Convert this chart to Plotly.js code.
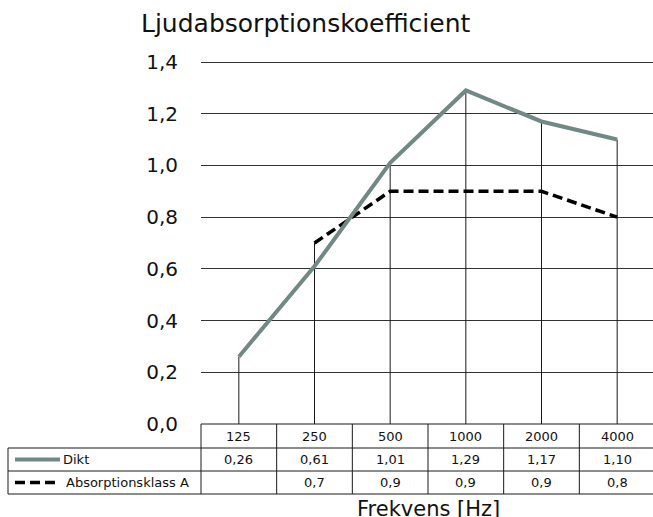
<!DOCTYPE html>
<html>
<head>
<meta charset="utf-8">
<script src="https://cdn.plot.ly/plotly-3.0.1.min.js"></script>
<style>
html,body{margin:0;padding:0;overflow:hidden;background:#fff;}
#chart{width:655px;height:517px;}
</style>
</head>
<body>
<div id="chart"></div>
<script>
// ---- data ----
const categories = ["125", "250", "500", "1000", "2000", "4000"];
const dikt = [0.26, 0.61, 1.01, 1.29, 1.17, 1.10];
const klassA = [null, 0.7, 0.9, 0.9, 0.9, 0.8];
const seriesNames = ["Dikt", "Absorptionsklass A"];
const yTicks = [0, 0.2, 0.4, 0.6, 0.8, 1.0, 1.2, 1.4];
const xTitle = "Frekvens [Hz]";
const chartTitle = "Ljudabsorptionskoefficient";

// ---- layout geometry ----
const W = 655, H = 517, ML = 201, MR = 0, MT = 59, MB = 93;
const PW = W - ML - MR, PH = H - MT - MB;
const TOP_PAD = 3; // px of headroom so the top gridline is kept
const yMax = yTicks[yTicks.length - 1] * PH / (PH - TOP_PAD);
const px2x = px => (px - ML) / PW;
const px2y = py => (H - MB - py) / PH;
const FONT = "DejaVu Sans";
const DIKT_COLOR = "#728885";
const LINE_COLOR = "#1a1a1a";

// table rows (pixel y)
const rowTop = [424, 448, 471];
const rowBot = 494;
const labelLeft = 8;
const colW = PW / categories.length;

const fmt = (v, d) => v === null ? "" : v.toFixed(d).replace(".", ",");

// drop lines from each category top down to zero
const dropX = [], dropY = [];
categories.forEach((c, i) => {
  const vals = [dikt[i], klassA[i]].filter(v => v !== null);
  dropX.push(c, c, null);
  dropY.push(0, Math.max(...vals), null);
});

const traces = [
  {x: dropX, y: dropY, type: "scatter", mode: "lines",
   line: {color: LINE_COLOR, width: 1}, hoverinfo: "skip", showlegend: false},
  {x: categories, y: klassA, type: "scatter", mode: "lines", name: seriesNames[1],
   line: {color: "#000", width: 3.5, dash: "10px,5px"}, showlegend: false},
  {x: categories, y: dikt, type: "scatter", mode: "lines", name: seriesNames[0],
   line: {color: DIKT_COLOR, width: 4}, showlegend: false}
];

const shapes = [];
const hline = (x0, x1, y) => shapes.push({type: "line", xref: "paper", yref: "paper",
  x0: px2x(x0), x1: px2x(x1), y0: px2y(y), y1: px2y(y), line: {color: LINE_COLOR, width: 1}});
const vline = (x, y0, y1) => shapes.push({type: "line", xref: "paper", yref: "paper",
  x0: px2x(x), x1: px2x(x), y0: px2y(y0), y1: px2y(y1), line: {color: LINE_COLOR, width: 1}});

hline(ML, W, rowTop[0]);
hline(labelLeft, W, rowTop[1]);
hline(labelLeft, W, rowTop[2]);
hline(labelLeft, W, rowBot);
vline(labelLeft, rowTop[1], rowBot);
for (let k = 0; k <= categories.length; k++) vline(ML + k * colW, rowTop[0], rowBot);

// legend samples in row labels
const r1c = (rowTop[1] + rowTop[2]) / 2, r2c = (rowTop[2] + rowBot) / 2;
shapes.push({type: "line", xref: "paper", yref: "paper", x0: px2x(15), x1: px2x(60),
  y0: px2y(r1c), y1: px2y(r1c), line: {color: DIKT_COLOR, width: 4}});
shapes.push({type: "line", xref: "paper", yref: "paper", x0: px2x(15), x1: px2x(58),
  y0: px2y(r2c), y1: px2y(r2c), line: {color: "#000", width: 3.5, dash: "10px,5px"}});

const annotations = [];
const cell = (x, xref, py, text, anchor, size) => annotations.push({x: x, xref: xref, y: px2y(py), yref: "paper",
  text: text, showarrow: false, xanchor: anchor || "center", yanchor: "middle",
  font: {family: FONT, size: size || 13, color: "#111"}});
const r0c = (rowTop[0] + rowTop[1]) / 2;
categories.forEach((c, i) => {
  // category axis positions are the serial index of each category
  cell(i, "x", r0c, c);
  cell(i, "x", r1c, fmt(dikt[i], 2));
  cell(i, "x", r2c, fmt(klassA[i], 1));
});
cell(px2x(61), "paper", r1c, seriesNames[0], "left");
cell(px2x(64), "paper", r2c, seriesNames[1], "left");
// x-axis title below the table
cell(0.5, "paper", 509, xTitle, "center", 21);

const layout = {
  width: W, height: H,
  margin: {l: ML, r: MR, t: MT, b: MB, pad: 0},
  paper_bgcolor: "#fff", plot_bgcolor: "#fff",
  separators: ", ",
  font: {family: FONT, color: "#111"},
  title: {text: chartTitle, font: {family: FONT, size: 25, color: "#111"},
    xref: "container", yref: "container", x: 141 / W, xanchor: "left", y: 1 - 23 / H, yanchor: "middle"},
  xaxis: {type: "category", range: [-0.5, categories.length - 0.5], showgrid: false,
    showline: false, zeroline: false, showticklabels: false, ticks: ""},
  yaxis: {range: [0, yMax], tickvals: yTicks, tickformat: ".1f",
    showgrid: true, gridcolor: "#333", gridwidth: 1, zeroline: false, showline: false,
    ticks: "outside", ticklen: 18, tickcolor: "rgba(0,0,0,0)",
    tickfont: {family: FONT, size: 20, color: "#111"}},
  shapes: shapes,
  annotations: annotations,
  showlegend: false
};

Plotly.newPlot("chart", traces, layout, {staticPlot: true, displayModeBar: false});
</script>
</body>
</html>
